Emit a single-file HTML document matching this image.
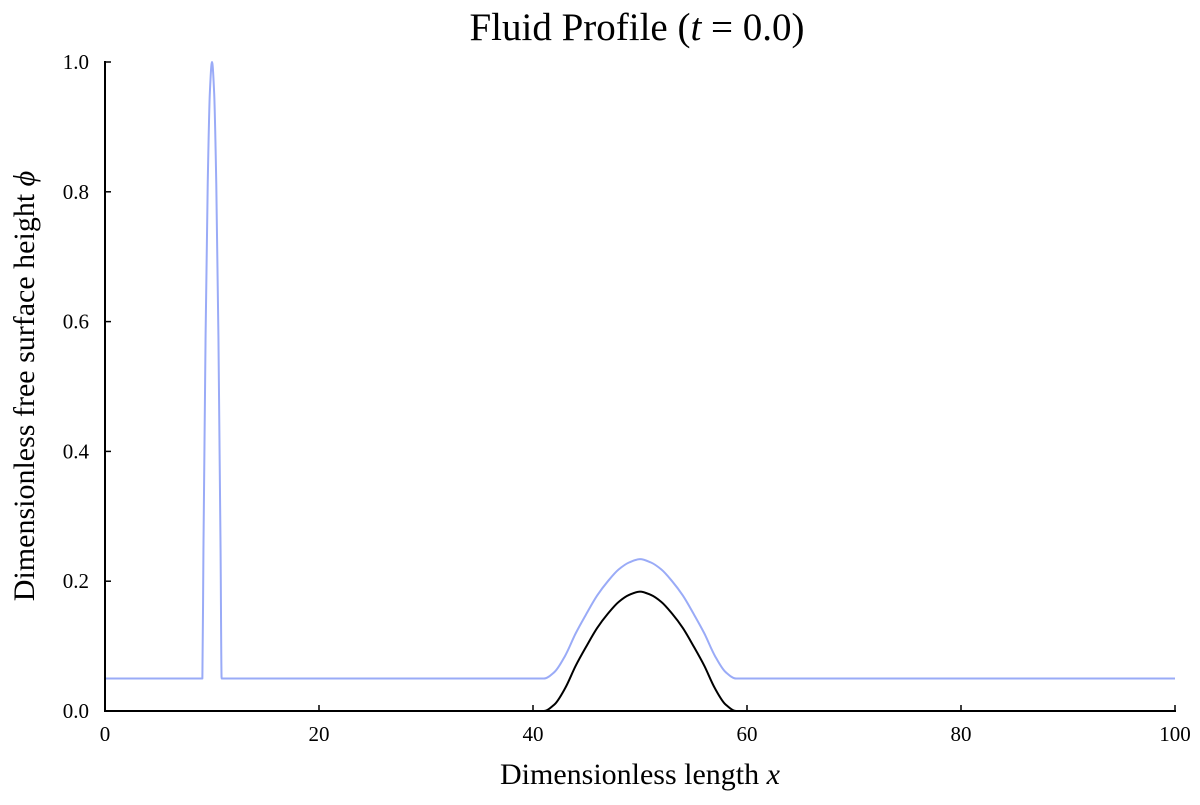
<!DOCTYPE html>
<html><head><meta charset="utf-8"><style>
body{margin:0;background:#fff;}
svg text{font-family:"Liberation Serif","DejaVu Serif",serif;fill:#000;}
</style></head><body>
<svg id="chart" width="1200" height="800" viewBox="0 0 1200 800" xmlns="http://www.w3.org/2000/svg">
<rect width="1200" height="800" fill="#fff"/>
<text x="637" y="40" font-size="39" text-anchor="middle">Fluid Profile (<tspan font-style="italic">t</tspan> = 0.0)</text>
<g id="ticks"></g>
<g id="series"></g>
<line x1="105" y1="61" x2="105" y2="712" stroke="#000" stroke-width="2"/>
<line x1="104" y1="711" x2="1176" y2="711" stroke="#000" stroke-width="2"/>
<text x="640" y="784" font-size="30" text-anchor="middle">Dimensionless length <tspan font-style="italic">x</tspan></text>
<text transform="translate(34,386) rotate(-90)" font-size="30" text-anchor="middle">Dimensionless free surface height <tspan font-style="italic">ϕ</tspan></text>
</svg>
<script>
const xTicks=[0,20,40,60,80,100];
const yTicks=[0.0,0.2,0.4,0.6,0.8,1.0];
const yTickLabels=["0.0","0.2","0.4","0.6","0.8","1.0"];
const surfaceX=[0,9.1,9.2,9.4,9.6,9.8,10,10.2,10.4,10.6,10.8,10.9,41,42,43,44,45,46,47,48,49,50,51,52,53,54,55,56,57,58,59,100];
const surfaceY=[0.05,0.05,0.25,0.578,0.812,0.953,1.0,0.953,0.812,0.578,0.25,0.05,0.05,0.06,0.085,0.12,0.15,0.178,0.2,0.218,0.229,0.234,0.229,0.218,0.2,0.178,0.15,0.12,0.085,0.06,0.05,0.05];
const bedX=[0,41,42,43,44,45,46,47,48,49,50,51,52,53,54,55,56,57,58,59,100];
const bedY=[0,0,0.01,0.035,0.07,0.10,0.128,0.15,0.168,0.179,0.184,0.179,0.168,0.15,0.128,0.10,0.07,0.035,0.01,0,0];
const sx=v=>105+v*10.7;
const sy=v=>711-v*649;
const NS="http://www.w3.org/2000/svg";
const tg=document.getElementById('ticks');
xTicks.forEach(t=>{
  const l=document.createElementNS(NS,'line');
  
  
  l.setAttribute('x1',sx(t));l.setAttribute('x2',sx(t));l.setAttribute('y1',711);l.setAttribute('y2',705);
  l.setAttribute('stroke','#000');l.setAttribute('stroke-width','1.5');tg.appendChild(l);
  const tx=document.createElementNS(NS,'text');
  
  
  tx.setAttribute('x',sx(t));tx.setAttribute('y',741);tx.setAttribute('font-size','21');tx.setAttribute('text-anchor','middle');
  tx.textContent=t;tg.appendChild(tx);
});
yTicks.forEach((t,i)=>{
  const l=document.createElementNS(NS,'line');
  
  
  l.setAttribute('x1',105);l.setAttribute('x2',111);l.setAttribute('y1',sy(t));l.setAttribute('y2',sy(t));
  l.setAttribute('stroke','#000');l.setAttribute('stroke-width','1.5');tg.appendChild(l);
  const tx=document.createElementNS(NS,'text');
  
  
  tx.setAttribute('x',89);tx.setAttribute('y',sy(t)+7);tx.setAttribute('font-size','21');tx.setAttribute('text-anchor','end');
  tx.textContent=yTickLabels[i];tg.appendChild(tx);
});
const sg=document.getElementById('series');
// monotone cubic (Fritsch-Carlson) path in screen coords
function monotonePath(pts){
  const n=pts.length, d=[], m=[];
  for(let i=0;i<n-1;i++) d.push((pts[i+1][1]-pts[i][1])/(pts[i+1][0]-pts[i][0]));
  m[0]=d[0]; m[n-1]=d[n-2];
  for(let i=1;i<n-1;i++){
    if(d[i-1]*d[i]<=0) m[i]=0;
    else { const h0=pts[i][0]-pts[i-1][0], h1=pts[i+1][0]-pts[i][0];
      const w1=2*h1+h0, w2=h1+2*h0; m[i]=(w1+w2)/(w1/d[i-1]+w2/d[i]); }
  }
  let s='M'+pts[0][0]+','+pts[0][1];
  for(let i=0;i<n-1;i++){
    const h=(pts[i+1][0]-pts[i][0])/3;
    s+=' C'+(pts[i][0]+h)+','+(pts[i][1]+m[i]*h)+' '+(pts[i+1][0]-h)+','+(pts[i+1][1]-m[i+1]*h)+' '+pts[i+1][0]+','+pts[i+1][1];
  }
  return s;
}
function addLine(xs,ys,color,name){
  const pts=xs.map((x,i)=>[sx(x),sy(ys[i])]);
  const p=document.createElementNS(NS,'path');
  
  
  p.setAttribute('d',monotonePath(pts));
  p.setAttribute('fill','none');p.setAttribute('stroke',color);p.setAttribute('stroke-width','2');p.setAttribute('stroke-linejoin','round');
  sg.appendChild(p);
}
addLine(surfaceX,surfaceY,'#9aabf7','free-surface-line');
addLine(bedX,bedY,'#000','bed-line');
</script>
</body></html>
